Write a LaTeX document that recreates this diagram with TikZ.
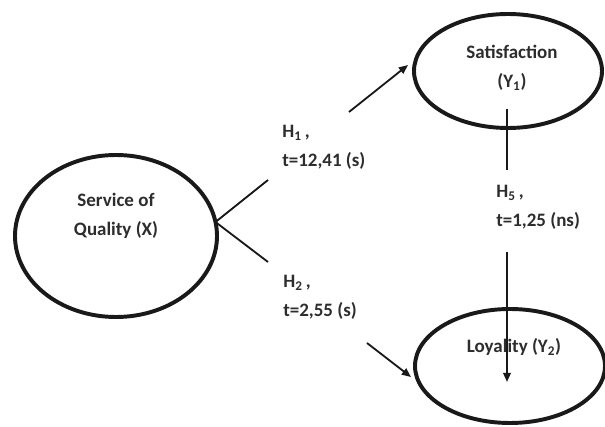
\documentclass[tikz,border=0pt]{standalone}
\usepackage{fontspec}
\setmainfont{Carlito}
\usetikzlibrary{arrows.meta,positioning,calc,shapes.geometric}
\definecolor{Ink}{RGB}{25,25,25}
\definecolor{TextInk}{RGB}{45,45,45}

\begin{document}
\begin{tikzpicture}[
    var/.style={draw=Ink, ellipse, line width=2.8pt, inner sep=0pt, outer sep=0pt,
      fill=white},
    lbl/.style={align=center, inner sep=0pt, text=TextInk,
      font=\fontsize{13.5}{20.6}\selectfont\bfseries},
    hyp/.style={align=left, anchor=west, inner sep=0pt, text=TextInk,
      font=\fontsize{13.5}{20.6}\selectfont\bfseries},
    link/.style={line width=1.3pt, draw=Ink},
    arr/.style={-{Triangle[length=2.3mm,width=1.9mm]}, line width=1.3pt, draw=Ink}
  ]
    \useasboundingbox (0,0) rectangle (15.125,10.65);
    % latent variables
    \node[var, minimum width=5.05cm, minimum height=4.05cm] (qual) at (2.9,4.75) {};
    \node[var, minimum width=4.7cm, minimum height=2.85cm] (sat) at (12.7,8.875) {};
    \node[var, minimum width=4.75cm, minimum height=2.85cm] (loy) at (12.75,1.5) {};
    \node[lbl] (qualtxt) at ([yshift=0.5cm]qual.center) {Service of\\Quality (X)};
    \node[lbl] (sattxt) at ([xshift=0.1cm,yshift=0.075cm]sat.center) {Satisfaction\\(Y\textsubscript{1})};
    \node[lbl] (loytxt) at ([xshift=0.1cm,yshift=0.475cm]loy.center) {Loyality (Y\textsubscript{2})};
    % path labels
    \node[hyp] (h1) at (7.05,6.96) {H\textsubscript{1}\,,\\t=12,41 (s)};
    \node[hyp] (h2) at (7.075,3.225) {H\textsubscript{2}\,,\\t=2,55 (s)};
    \node[hyp] (h5) at (12.4,5.46) {H\textsubscript{5}\,,\\t=1,25 (ns)};
    % loose ends of the broken paths
    \coordinate (h1in) at (6.7,6.15);
    \coordinate (h2in) at (6.7,4.1);
    \coordinate (h1out) at (8.725,7.85);
    \coordinate (h1tip) at (10.2,9.025);
    \coordinate (h2out) at (9.175,2.075);
    \coordinate (h2tip) at (10.275,1.225);
    \coordinate (h5top) at (12.675,7.925);
    \coordinate (h5in) at (12.675,6.4);
    \coordinate (h5out) at (12.675,4.35);
    \coordinate (h5tip) at (12.675,1.1);
    \draw[link] (qual.8) -- (h1in);
    \draw[link] (qual.8) -- (h2in);
    \draw[arr] (h1out) -- (h1tip);
    \draw[arr] (h2out) -- (h2tip);
    \draw[link] (h5top) -- (h5in);
    \draw[arr] (h5out) -- (h5tip);
  \end{tikzpicture}
\end{document}
